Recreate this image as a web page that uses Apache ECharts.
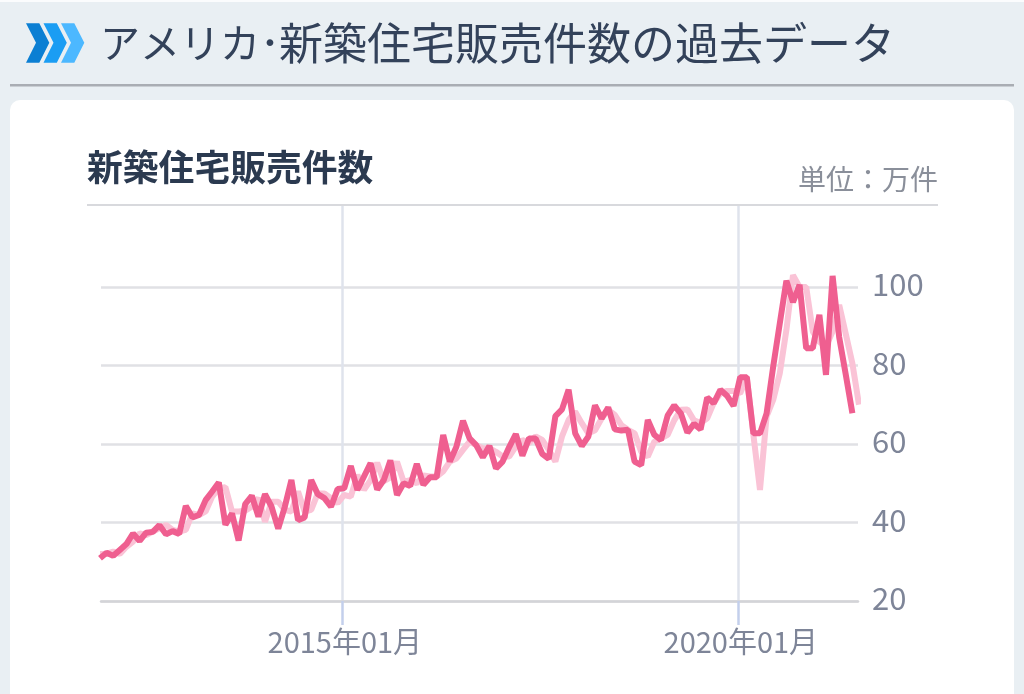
<!DOCTYPE html>
<html>
<head>
<meta charset="utf-8">
<style>
	html,body{margin:0;padding:0;background:#fff;}
	#container1{width:1024px;height:694px;}
</style>
<script src="https://cdn.jsdelivr.net/npm/echarts@6/dist/echarts.min.js"></script>
</head>
<body>
<div id="container1"></div>
<script>
// 実績 (one point per month, first point at the left edge of the plot)
var actual = [
	30.9,32.3,31.5,33.0,34.5,37.2,35.3,37.4,37.6,39.3,37.0,37.8,37.1,44.2,41.3,41.9,45.7,47.9,50.2,39.4,
	42.3,35.4,44.7,46.8,41.5,47.2,44.0,38.4,44.0,50.8,40.6,41.3,50.8,47.2,46.2,44.0,48.5,48.7,54.4,48.3,
	51.7,55.1,48.4,50.8,55.8,47.0,50.0,49.3,54.9,49.6,51.5,51.5,62.3,55.5,59.3,65.9,61.4,59.7,56.6,59.5,
	53.8,55.5,59.2,62.5,57.0,61.4,61.4,57.5,56.2,67.1,68.8,73.8,62.7,59.5,61.9,69.8,66.5,69.3,63.7,63.4,
	63.6,55.5,54.6,66.1,62.3,61.0,67.2,69.8,67.8,62.9,65.1,63.7,71.8,70.4,73.8,72.3,69.7,77.0,77.0,62.7,
	62.7,67.8,79.7,90.7,101.6,96.1,100.5,84.4,84.4,92.9,77.6,102.8,87.2,77.6,67.8
];
// 前回値 (薄い線)
var previous = [
	32.0,32.0,32.6,32.0,33.8,35.1,37.2,36.8,37.7,38.5,39.4,38.1,37.7,38.1,42.3,41.9,42.8,46.6,48.7,49.0,
	42.8,42.8,43.0,44.0,46.2,40.2,45.3,45.3,43.2,42.8,47.9,42.8,43.2,47.4,47.4,46.2,44.9,47.0,46.6,52.1,
	48.3,50.8,55.2,50.5,51.5,55.5,50.4,50.8,50.0,52.0,51.7,51.7,53.0,55.5,56.3,58.5,60.6,59.7,58.9,58.9,
	58.0,56.8,56.8,59.3,61.0,60.2,61.9,61.0,58.5,55.5,61.9,66.1,68.2,65.3,62.7,63.5,66.5,68.7,67.4,64.8,
	63.6,62.7,58.0,56.8,60.6,61.4,62.3,66.0,68.7,68.8,66.0,65.3,66.5,70.5,72.9,73.5,73.5,72.9,77.0,62.3,
	48.3,67.0,71.2,78.0,89.0,103.0,100.0,100.0,88.6,86.0,84.8,88.6,95.4,88.0,80.5,70.0
];
var yTicks = [20, 40, 60, 80, 100];
var xTickLabels = ['2015年01月', '2020年01月'];
var xTickPos = [36.64, 96.64];

var pageTitleHead = 'アメリカ･';
var pageTitleTail = '新築住宅販売件数の過去データ';
var chartTitle = '新築住宅販売件数';
var unitLabel = '単位：万件';

var font = '"Noto Sans CJK JP","Noto Sans",sans-serif';

function toPairs(arr) {
	return arr.map(function (v, i) {
		return [i, v];
	});
}

// 見出しの矢印
function chevron(dx, color) {
	return {
		type: 'polygon',
		z: -5,
		silent: true,
		shape: {
			points: [[26 + dx, 23.3], [39.3 + dx, 23.3], [49.3 + dx, 42.8], [39.3 + dx, 62.7], [26 + dx, 62.7], [36 + dx, 42.8]]
		},
		style: { fill: color }
	};
}

var myChart1 = echarts.init(document.getElementById('container1'));
myChart1.setOption({
	animation: false,
	backgroundColor: '#e9eff3',
	textStyle: { fontFamily: font },
	graphic: [
		{ type: 'rect', z: -10, silent: true, shape: { x: 0, y: 0, width: 1024, height: 2 }, style: { fill: '#fbfcfd' } },
		{ type: 'rect', z: -10, silent: true, shape: { x: 10, y: 84, width: 1004, height: 2.5 }, style: { fill: '#a9adb3' } },
		{ type: 'rect', z: -10, silent: true, shape: { x: 10, y: 100, width: 1004, height: 620, r: 10 }, style: { fill: '#ffffff' } },
		chevron(0, '#0b7fd3'),
		chevron(17.5, '#1a9df3'),
		chevron(35, '#4cb8ff'),
		{ type: 'text', z: -5, silent: true, x: 100, y: 43, style: { text: pageTitleHead, font: '40px ' + font, fill: '#33425a', verticalAlign: 'middle' } },
		{ type: 'text', z: -5, silent: true, x: 279, y: 43, style: { text: pageTitleTail, font: '44px ' + font, fill: '#33425a', verticalAlign: 'middle' } },
		{ type: 'text', z: -5, silent: true, x: 87, y: 167, style: { text: chartTitle, font: 'bold 35.8px ' + font, fill: '#2b3a50', verticalAlign: 'middle' } },
		{ type: 'text', z: -5, silent: true, x: 938, y: 179, style: { text: unitLabel, font: '28px ' + font, fill: '#8a8f9a', align: 'right', verticalAlign: 'middle' } },
		{ type: 'rect', z: -5, silent: true, shape: { x: 87, y: 204, width: 851, height: 2 }, style: { fill: '#d8d9dd' } }
	],
	grid: {
		left: 101,
		top: 206,
		width: 757,
		height: 395
	},
	xAxis: {
		type: 'value',
		min: 0.15,
		max: 114.85,
		axisLine: { show: true, lineStyle: { color: '#d3d4d8', width: 2.5 } },
		axisTick: { show: true, customValues: xTickPos, length: 24, lineStyle: { color: '#c3cfec', width: 2.5 } },
		splitLine: { show: true, lineStyle: { color: '#dfe3ec', width: 2.5 } },
		axisLabel: {
			customValues: xTickPos,
			color: '#7e8598',
			fontSize: 29,
			margin: 26,
			padding: [0, 0, 0, 6],
			formatter: function (value) {
				return xTickLabels[xTickPos.indexOf(value)];
			}
		}
	},
	yAxis: {
		type: 'value',
		position: 'right',
		min: 20,
		max: 120.6,
		axisLine: { show: false },
		axisTick: { show: false, customValues: yTicks },
		splitLine: { show: true, lineStyle: { color: '#e0e1e5', width: 2.5 } },
		axisLabel: {
			customValues: yTicks,
			color: '#7e8598',
			fontSize: 31,
			margin: 14,
			verticalAlign: 'bottom',
			lineHeight: 5
		}
	},
	series: [
		{
			name: '前回値',
			type: 'line',
			symbol: 'none',
			z: 2,
			lineStyle: { color: '#fac3d6', width: 6 },
			data: toPairs(previous)
		},
		{
			name: '実績',
			type: 'line',
			symbol: 'none',
			z: 3,
			lineStyle: { color: '#ef5f90', width: 6 },
			data: toPairs(actual)
		}
	]
});
</script>
</body>
</html>
